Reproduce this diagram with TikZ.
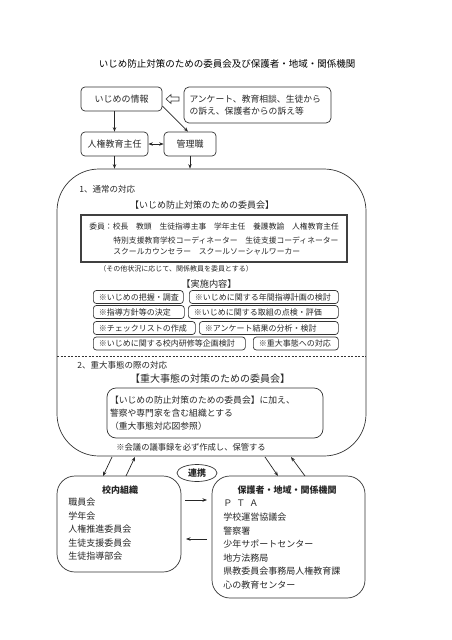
\documentclass[tikz,border=0pt]{standalone}
\usepackage{fontspec}
\setmainfont{Noto Sans CJK JP}
\usetikzlibrary{arrows.meta,shapes.geometric,positioning}

\begin{document}
\begin{tikzpicture}[
    x=1pt, y=-1pt,
    line width=0.7pt,
    every node/.style={text=black!85, inner sep=0pt},
    box/.style={draw=black!80, rounded corners=4pt, minimum height=24pt, font=\fontsize{9}{11}\selectfont},
    item/.style={draw=black!80, rounded corners=3pt, anchor=west, minimum height=13pt, inner xsep=5.5pt, align=left, font=\fontsize{8}{9}\selectfont},
    txt/.style={anchor=west, font=\fontsize{8}{10}\selectfont},
    listtxt/.style={anchor=west, font=\fontsize{9}{11}\selectfont},
    sect/.style={anchor=west, font=\fontsize{8.5}{10}\selectfont},
    bigbox/.style={draw=black!80, rounded corners=18pt},
    arr/.style={draw=black!85, -{Stealth[length=4.5pt,width=3.5pt]}},
    arrs/.style={draw=black!85, {Stealth[length=4.5pt,width=3.5pt]}-{Stealth[length=4.5pt,width=3.5pt]}},
  ]
  \useasboundingbox (0,0) rectangle (452,640);

  % title
  \node[font=\fontsize{9.5}{11}\selectfont, text=black] (title) at (227,64)
    {いじめ防止対策のための委員会及び保護者・地域・関係機関};

  % information and first contacts
  \node[box, minimum width=81pt] (info) at (121.5,99) {いじめの情報};
  \node[box, minimum width=147pt, minimum height=36pt, rounded corners=5pt,
        text width=136pt, inner xsep=5.5pt, align=left,
        font=\fontsize{8.8}{12.5}\selectfont] (src) at (257.5,105)
    {アンケート、教育相談、生徒から\\の訴え、保護者からの訴え等};
  \draw[draw=black!80, line width=0.6pt] (166,99) -- (171,94.5) -- (171,97) -- (179,97)
    -- (179,101) -- (171,101) -- (171,103.5) -- cycle;
  \node[box, minimum width=67pt] (jinken) at (114.5,144) {人権教育主任};
  \node[box, minimum width=52pt] (kanri) at (190,144) {管理職};

  \draw[arr] (jinken.north |- info.south) -- (jinken.north);
  \draw[arr] ([yshift=-7pt]info.east) -- ([xshift=-2pt]kanri.north);
  \draw[arrs] (jinken) -- (kanri);

  % the committee
  \node[draw=black!80, rounded corners=42pt, minimum width=309pt, minimum height=287pt] (main) at (211.5,312.5) {};
  \draw[arr] (jinken.south) -- (jinken.south |- main.north);
  \draw[arr] (kanri.south) -- (kanri.south |- main.north);

  % 1. normal
  \node[sect] (sec1) at (79,189) {1、通常の対応};
  \node[font=\fontsize{9}{11}\selectfont] (com1) at (202,205) {【いじめ防止対策のための委員会】};
  \node[draw=black!75, line width=2.5pt, minimum width=266pt, minimum height=47pt] (mem) at (214,238.5) {};
  \node[txt, font=\fontsize{7.8}{10}\selectfont] (mema) at (89,227) {委員：校長　教頭　生徒指導主事　学年主任　養護教諭　人権教育主任};
  \node[txt, font=\fontsize{7.8}{10}\selectfont] (memb) at (113,240) {特別支援教育学校コーディネーター　生徒支援コーディネーター};
  \node[txt, font=\fontsize{7.8}{10}\selectfont] (memc) at (113,252) {スクールカウンセラー　スクールソーシャルワーカー};
  \node[txt, font=\fontsize{7}{9}\selectfont] (other) at (99,269) {（その他状況に応じて、関係教員を委員とする）};
  \node[font=\fontsize{9.2}{11}\selectfont] (jisshi) at (209,284) {【実施内容】};

  \foreach \nm/\x/\y/\w/\t in {
      a1/93/297/90/※いじめの把握・調査,
      b1/189/297/149/※いじめに関する年間指導計画の検討,
      a2/93/312/91/※指導方針等の決定,
      b2/188/312/150/※いじめに関する取組の点検・評価,
      a3/93/328/102/※チェックリストの作成,
      b3/199/328/139/※アンケート結果の分析・検討,
      a4/93/343.5/152/※いじめに関する校内研修等企画検討,
      b4/253/343.5/85/※重大事態への対応} {
    \pgfmathsetmacro{\tw}{\w-11}
    \node[item, text width=\tw pt] (\nm) at (\x,\y) {\t};
  }

  \coordinate (dl) at (57,356);
  \coordinate (dr) at (366,356);
  \draw[draw=black!80, line width=0.6pt, dash pattern=on 2pt off 1.5pt] (dl) -- (dr);

  % 2. serious cases
  \node[sect] (sec2) at (77,365) {2、重大事態の際の対応};
  \node[font=\fontsize{10}{12}\selectfont] (com2) at (210,379) {【重大事態の対策のための委員会】};
  \node[draw=black!80, rounded corners=9pt, minimum width=216pt, minimum height=50pt,
        text width=210pt, inner xsep=3pt, align=left,
        font=\fontsize{8.8}{13}\selectfont] (crit) at (215,413)
    {【いじめの防止対策のための委員会】に加え、\\警察や専門家を含む組織とする\\（重大事態対応図参照）};
  \node[txt, font=\fontsize{8.3}{10}\selectfont] (note) at (116,447) {※会議の議事録を必ず作成し、保管する};

  % cooperation
  \node[draw=black!80, ellipse, minimum width=40pt, minimum height=17pt,
        font=\bfseries\fontsize{9}{10}\selectfont] (renkei) at (197,473) {連携};

  \node[bigbox, minimum width=124pt, minimum height=96pt] (kounai) at (119,524) {};
  \node[bigbox, minimum width=153pt, minimum height=122pt] (kankei) at (288.5,537) {};
  \node[font=\bfseries\fontsize{9}{11}\selectfont] (kounaihd) at (120,490) {校内組織};
  \node[font=\bfseries\fontsize{9}{11}\selectfont] (kankeihd) at (287,490) {保護者・地域・関係機関};

  \foreach \t [count=\i from 0] in {職員会,学年会,人権推進委員会,生徒支援委員会,生徒指導部会}
    \node[listtxt] (kounai\i) at (68,{502+13.6*\i}) {\t};
  \foreach \t [count=\i from 0] in {Ｐ\hspace{4pt}Ｔ\hspace{4pt}Ａ,学校運営協議会,警察署,少年サポートセンター,地方法務局,県教委員会事務局人権教育課,心の教育センター}
    \node[listtxt] (kankei\i) at (223,{503.5+13.6*\i}) {\t};

  % arrows between the boxes
  \coordinate (p1) at (112,457); \coordinate (q1) at (103,476);
  \coordinate (p2) at (126,476); \coordinate (q2) at (135,457);
  \coordinate (p3) at (265,457); \coordinate (q3) at (278,476);
  \coordinate (p4) at (305,476); \coordinate (q4) at (291,457);
  \draw[arr] (p1) -- (q1);
  \draw[arr] (p2) -- (q2);
  \draw[arr] (p3) -- (q3);
  \draw[arr] (p4) -- (q4);

  \coordinate (r1) at (185,500); \coordinate (s1) at (207,500);
  \coordinate (r2) at (207,539); \coordinate (s2) at (186,539);
  \draw[arr] (r1) -- (s1);
  \draw[arr] (r2) -- (s2);
\end{tikzpicture}
\end{document}
